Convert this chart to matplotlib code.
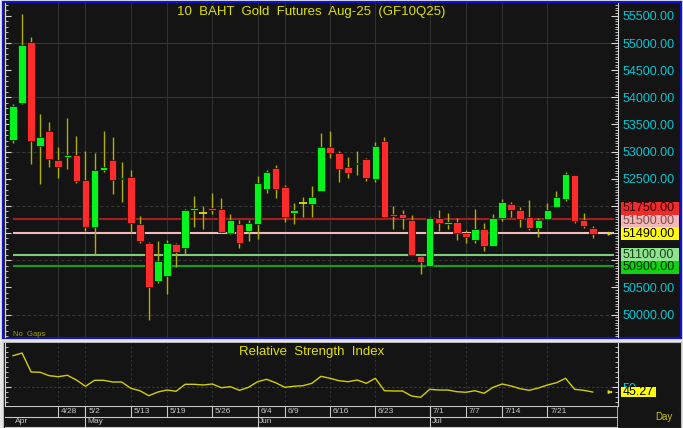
import matplotlib
matplotlib.use('Agg')
import matplotlib.pyplot as plt
from matplotlib.patches import Rectangle
from matplotlib.ticker import MultipleLocator

plt.rcParams['font.family'] = ['Liberation Sans', 'DejaVu Sans']

# daily bars, GF10Q25
dates = ['4/21', '4/22', '4/23', '4/24', '4/25', '4/28', '4/29', '4/30', '5/2', '5/6',
         '5/7', '5/8', '5/9', '5/13', '5/14', '5/15', '5/16', '5/19', '5/20', '5/21',
         '5/22', '5/23', '5/26', '5/27', '5/28', '5/29', '5/30', '6/4', '6/5', '6/6',
         '6/9', '6/10', '6/11', '6/12', '6/13', '6/16', '6/17', '6/18', '6/19', '6/20',
         '6/23', '6/24', '6/25', '6/26', '6/27', '6/30', '7/1', '7/2', '7/3', '7/4',
         '7/7', '7/8', '7/9', '7/10', '7/14', '7/15', '7/16', '7/17', '7/18', '7/21',
         '7/22', '7/23', '7/24', '7/25', '7/29']
opens = [53214, 53889, 55024, 53108, 53385, 52850, 52895, 52937, 52471, 51616,
         52661, 52839, 52489, 52532, 51666, 51316, 50616, 50708, 51292, 51224,
         51924, 51863, 51948, 51948, 51495, 51666, 51543, 51660, 52305, 52697,
         52347, 51874, 52047, 52034, 52274, 53084, 52979, 52716, 52766, 52858,
         52489, 53200, 51845, 51845, 51740, 51082, 50892, 51782, 51672, 51697,
         51495, 51371, 51580, 51266, 51777, 52034, 51930, 51795, 51592, 51764,
         51985, 52121, 52563, 51740, 51598]
highs = [53871, 55534, 55105, 53687, 53545, 53084, 53624, 53287, 53016, 52968,
         53385, 53269, 52803, 52666, 51813, 51334, 51353, 51371, 51322, 51948,
         52182, 51997, 52231, 52150, 51845, 51740, 51740, 52556, 52661, 52753,
         52384, 52047, 52163, 52366, 53337, 53385, 53016, 52900, 53005, 52887,
         53182, 53274, 51997, 51924, 51826, 51113, 51789, 51924, 51869, 51782,
         51555, 51937, 51679, 51845, 52132, 52066, 51985, 52108, 51771, 52058,
         52274, 52624, 52570, 51863, 51629]
lows = [53164, 53880, 52771, 52408, 52721, 52519, 52674, 52427, 51543, 51095,
        52618, 52224, 52071, 51506, 51321, 49898, 50585, 50382, 50868, 51119,
        51616, 51574, 51850, 51495, 51490, 51218, 51358, 51390, 52243, 52150,
        51708, 51660, 51800, 51800, 52270, 52887, 52445, 52519, 52563, 52464,
        52440, 51789, 51574, 51568, 51095, 50745, 50890, 51543, 51580, 51371,
        51322, 51322, 51169, 51260, 51716, 51789, 51616, 51555, 51432, 51752,
        51980, 52095, 51679, 51592, 51403]
closes = [53840, 54958, 53195, 53269, 52858, 52721, 52937, 52458, 51605, 52666,
          52716, 52471, 52519, 51690, 51358, 50506, 50984, 51316, 51156, 51918,
          51948, 51863, 51924, 51519, 51740, 51310, 51679, 52416, 52629, 52311,
          51800, 51924, 52047, 52158, 53084, 52979, 52674, 52605, 52795, 52519,
          53103, 51800, 51819, 51782, 51095, 50966, 51771, 51690, 51703, 51500,
          51427, 51580, 51266, 51782, 52066, 51924, 51752, 51598, 51734, 51924,
          52163, 52582, 51721, 51624, 51490]
rsi = [81.6, 84.3, 65.3, 65.0, 61.6, 60.6, 62.0, 57.3, 51.0, 57.0,
       57.0, 55.3, 55.3, 49.0, 46.6, 41.6, 45.3, 47.3, 46.0, 53.0,
       53.0, 52.3, 53.3, 49.6, 50.6, 47.0, 50.0, 55.6, 58.0, 54.6,
       50.0, 51.0, 51.6, 54.0, 61.0, 59.0, 56.6, 55.6, 57.3, 54.0,
       59.0, 46.6, 46.3, 46.3, 41.3, 40.0, 48.0, 47.3, 47.3, 45.6,
       45.0, 46.6, 44.0, 50.0, 53.3, 51.3, 48.6, 47.0, 49.3, 52.3,
       54.6, 59.0, 48.0, 47.0, 45.27]

levels = [51750, 51500, 51100, 50900]
level_line_colors = ['#a41e1e', '#f2baba', '#7ccc7c', '#10a010']
level_box_colors = ['#ee2c2c', '#f4b6b6', '#8ee48e', '#12d012']
level_text_colors = ['#3c0000', '#7a5050', '#204020', '#003000']

date_ticks = ['4/28', '5/2', '5/13', '5/19', '5/26', '6/4', '6/9', '6/16', '6/23',
              '7/1', '7/7', '7/14', '7/21']
month_names = {'4': 'Apr', '5': 'May', '6': 'Jun', '7': 'Jul'}
price_ticks = list(range(50000, 55501, 500))
hidden_ticks = [51000, 51500, 52000]

W, H = 683, 428
BG = '#141414'
XL = (-0.883, 66.79)


def box(x0, y0, x1, y1):
    return [x0 / W, 1 - y1 / H, (x1 - x0) / W, (y1 - y0) / H]


fig = plt.figure(figsize=(W / 100, H / 100), dpi=100, facecolor='#e6e6e6')
fig.add_artist(Rectangle((2.5 / W, 1 - 337.5 / H), 678 / W, 336 / H, transform=fig.transFigure,
                         fc=BG, ec='#1212c8', lw=1.6, zorder=-5))
fig.add_artist(Rectangle((2.5 / W, 0), 678 / W, 86.5 / H, transform=fig.transFigure,
                         fc=BG, ec='#b8b8b8', lw=0.8, zorder=-5))

xs = list(range(len(dates)))
tick_idx = [dates.index(d) for d in date_ticks]

# ---- price panel
ax = fig.add_axes(box(5, 3, 618, 337), facecolor=BG)
ax.set_xlim(*XL)
ax.set_ylim(49586, 55737)
for p in range(50000, 55001, 1000):
    ax.axhline(p, color='#363636', lw=0.8, ls='-' if p >= 54000 else (0, (3, 2)), zorder=0)
for i in tick_idx:
    ax.axvline(i, color='#303030', lw=0.8, zorder=0)

for lv, c in zip(levels, level_line_colors):
    ax.hlines(lv, 0, 66.35, color=c, lw=1.5, zorder=1.5)

for i in xs:
    o, h, l, c = opens[i], highs[i], lows[i], closes[i]
    ax.vlines(i, l, h, color='#b0b000', lw=1, zorder=2)
    if o == c:
        ax.hlines(o, i - 0.42, i + 0.42, color='#e0e000', lw=1.3, zorder=3)
    else:
        col = '#00f51c' if c > o else '#ff2a2a'
        ax.bar(i, max(abs(c - o), 30), bottom=min(o, c), width=0.84, color=col,
               edgecolor='#0a0a0a', lw=0.5, zorder=3)

ax.annotate('', xy=(66.45, closes[-1]), xytext=(65.75, closes[-1]),
            arrowprops=dict(arrowstyle='-|>', color='#e0e000', lw=0.8, mutation_scale=5))

ax.yaxis.tick_right()
ax.set_yticks(price_ticks)
ax.set_yticklabels(['' if p in hidden_ticks else f'{p:.2f}' for p in price_ticks])
ax.yaxis.set_minor_locator(MultipleLocator(50))
ax.tick_params(axis='y', which='major', direction='in', length=5, width=0.8, color='#d8d8d8',
               labelcolor='#00c8d4', labelsize=9, pad=3)
ax.tick_params(axis='y', which='minor', direction='in', length=2.5, width=0.6, color='#d8d8d8')
ax.set_xticks([])
for s in ['top', 'bottom']:
    ax.spines[s].set_visible(False)
for s in ['left', 'right']:
    ax.spines[s].set_color('#d8d8d8')
    ax.spines[s].set_linewidth(0.8)

sec = ax.secondary_yaxis('left')
sec.set_yticks(price_ticks)
sec.set_yticklabels([])
sec.yaxis.set_minor_locator(MultipleLocator(100))
sec.tick_params(which='major', direction='in', length=4, width=0.8, color='#d8d8d8')
sec.tick_params(which='minor', direction='in', length=2.5, width=0.6, color='#d8d8d8')
sec.spines['left'].set_color('#d8d8d8')

# stacked price boxes on the right
labels = [(lv, bc, tc) for lv, bc, tc in zip(levels, level_box_colors, level_text_colors)]
labels.append((closes[-1], '#ffff00', '#000000'))
labels.sort(key=lambda t: -t[0])
ys = [H - ax.transData.transform((0, t[0]))[1] for t in labels]
a = [t[0] for t in labels].index(closes[-1])
gap = 12.7
for k in range(a - 1, -1, -1):
    ys[k] = min(ys[k], ys[k + 1] - gap)
for k in range(a + 1, len(ys)):
    ys[k] = max(ys[k], ys[k - 1] + gap)
for (lv, bc, tc), y in zip(labels, ys):
    fig.add_artist(Rectangle((620.5 / W, 1 - (y + 6.3) / H), 58.5 / W, 12.6 / H,
                             transform=fig.transFigure, fc=bc, ec='none', zorder=5))
    fig.text(622.5 / W, 1 - y / H, f'{lv:.2f}', color=tc, fontsize=9, va='center', ha='left', zorder=6)

fig.text(311.5 / W, 1 - 11.5 / H, '10  BAHT  Gold  Futures  Aug-25  (GF10Q25)', color='#e0e000',
         fontsize=9.5, ha='center', va='center')
fig.text(13 / W, 1 - 334 / H, 'No  Gaps', color='#a0a000', fontsize=5.5, ha='left', va='center')

# ---- RSI panel
axr = fig.add_axes(box(5, 343, 618, 406), facecolor=BG)
axr.set_xlim(*XL)
axr.set_ylim(31.3, 94.3)
axr.axhline(50, color='#3c3c3c', lw=0.8, ls=(0, (2, 2)), zorder=0)
for i in tick_idx:
    axr.axvline(i, color='#333333', lw=0.8, ls=(0, (2, 2)), zorder=0)
axr.plot(xs, rsi, color='#d0d000', lw=1, zorder=3)
axr.annotate('', xy=(66.45, rsi[-1]), xytext=(65.75, rsi[-1]),
             arrowprops=dict(arrowstyle='-|>', color='#e0e000', lw=0.8, mutation_scale=5))
axr.set_xticks([])
axr.set_yticks([50])
axr.yaxis.set_minor_locator(MultipleLocator(5))
axr.tick_params(axis='y', which='both', left=True, right=True, labelleft=False, labelright=True,
                direction='in', color='#d8d8d8', labelcolor='#00c8d4', labelsize=9, pad=3)
axr.tick_params(axis='y', which='major', length=4)
axr.tick_params(axis='y', which='minor', length=2.5)
for s in ['top', 'bottom']:
    axr.spines[s].set_visible(False)
for s in ['left', 'right']:
    axr.spines[s].set_color('#d8d8d8')
    axr.spines[s].set_linewidth(0.8)
fig.text(311.5 / W, 1 - 352.5 / H, 'Relative  Strength  Index', color='#e0e000',
         fontsize=9.5, ha='center', va='center')
yr = H - axr.transData.transform((0, rsi[-1]))[1]
fig.add_artist(Rectangle((621 / W, 1 - (yr + 5.2) / H), 35 / W, 10.4 / H,
                         transform=fig.transFigure, fc='#ffff00', ec='none', zorder=5))
fig.text(622.5 / W, 1 - yr / H, f'{rsi[-1]:.2f}', color='#000000', fontsize=9, va='center', zorder=6)

# ---- date axis
axd = fig.add_axes(box(5, 406, 618, 428), facecolor=BG)
axd.set_xlim(*XL)
axd.set_ylim(22, 0)
axd.axis('off')
for yy in [0.3, 10.5, 21]:
    axd.axhline(yy, color='#c8c8c8', lw=0.8)
axd.axvline(XL[1], color='#c8c8c8', lw=1.2)
for i, d in zip(tick_idx, date_ticks):
    axd.vlines(i, 0, 10.5, color='#c8c8c8', lw=0.8)
    axd.text(i + 0.3, 5.6, d, color='#c8c8c8', fontsize=6, va='center', ha='left')
prev = None
for i, d in enumerate(dates):
    m = d.split('/')[0]
    if m != prev:
        if prev is not None:
            axd.vlines(i, 0, 21, color='#c8c8c8', lw=0.8)
        axd.text(i + 0.2, 15.8, month_names[m], color='#c8c8c8', fontsize=6, va='center', ha='left')
        prev = m
fig.text(655 / W, 1 - 417 / H, 'Day', color='#c8c800', fontsize=7, ha='left', va='center')

fig.savefig('out.png', dpi=100, facecolor=fig.get_facecolor())
